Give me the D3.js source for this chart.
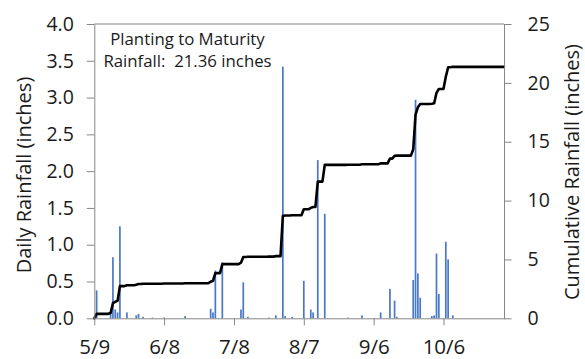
<!DOCTYPE html>
<html>
<head>
<meta charset="utf-8">
<script src="https://cdn.jsdelivr.net/npm/d3@7"></script>
<style>
  html, body { margin: 0; padding: 0; background: #fff; }
  svg { display: block; font-family: "Open Sans", sans-serif; }
</style>
</head>
<body>
<svg id="chart" width="585" height="359"></svg>
<script>
// Season window (planting to maturity)
const seasonStart = "5/9";
const seasonEnd = "11/1";
const seasonYear = 2014;

// Days with measurable rain and daily totals (inches)
const rainDates = [
  "5/10", "5/16", "5/17", "5/18", "5/19", "5/20", "5/23", "5/27", "5/28", "5/30",
  "6/3", "6/8", "6/17", "6/28", "6/29", "6/30", "7/3", "7/11", "7/12", "7/14",
  "7/23", "7/26", "7/29", "7/30", "8/2", "8/7", "8/10", "8/11", "8/13", "8/16",
  "8/26", "9/1", "9/9", "9/13", "9/15", "9/16", "9/23", "9/24", "9/25", "9/26",
  "10/1", "10/2", "10/3", "10/4", "10/7", "10/8", "10/10"
];
const rainDaily = [
  0.38, 0.07, 0.83, 0.12, 0.08, 1.25, 0.08, 0.04, 0.06, 0.02,
  0.01, 0.01, 0.03, 0.13, 0.08, 0.65, 0.76, 0.12, 0.49, 0.02,
  0.01, 0.04, 3.42, 0.03, 0.02, 0.51, 0.12, 0.08, 2.15, 1.42,
  0.01, 0.04, 0.08, 0.40, 0.24, 0.02, 0.52, 2.97, 0.61, 0.28,
  0.03, 0.04, 0.88, 0.33, 1.04, 0.80, 0.04
];

// Axis tick labels
const dateTicks = ["5/9", "6/8", "7/8", "8/7", "9/6", "10/6"];
const dailyTicks = [0, 0.5, 1.0, 1.5, 2.0, 2.5, 3.0, 3.5, 4.0];
const cumulativeTicks = [0, 5, 10, 15, 20, 25];

const titleLines = ["Planting to Maturity", "Rainfall:  21.36 inches"];

const parseDate = s => d3.utcParse("%m/%d/%Y")(s + "/" + seasonYear);

const svg = d3.select("#chart");
const plot = { left: 94.3, right: 504, top: 24, bottom: 318.3 };
const axisColor = "#868686";
const textColor = "#1a1a1a";

const x = d3.scaleUtc()
  .domain([parseDate(seasonStart), parseDate(seasonEnd)])
  .range([plot.left, plot.right]);
const yDaily = d3.scaleLinear().domain([0, 4]).range([plot.bottom, plot.top]);
const yCum = d3.scaleLinear().domain([0, 25]).range([plot.bottom, plot.top]);

// Daily series over the whole season, zero on dry days, and its running total
const rainByDay = new Map(rainDates.map((d, i) => [+parseDate(d), rainDaily[i]]));
const seasonDays = d3.utcDay.range(parseDate(seasonStart), d3.utcDay.offset(parseDate(seasonEnd), 1));
const cumulative = d3.cumsum(seasonDays, d => rainByDay.get(+d) || 0);
const cumSeries = seasonDays.map((d, i) => ({ date: d, total: cumulative[i] }));

// Plot frame top edge
svg.append("line")
  .attr("x1", plot.left).attr("x2", plot.right)
  .attr("y1", plot.top).attr("y2", plot.top)
  .attr("stroke", axisColor).attr("stroke-width", 1);

// Daily rainfall bars
const barW = 1.7;
svg.append("g").selectAll("rect")
  .data(rainDates.map((d, i) => ({ date: parseDate(d), value: rainDaily[i] })))
  .join("rect")
  .attr("x", d => x(d.date) - barW / 2)
  .attr("width", barW)
  .attr("y", d => yDaily(d.value))
  .attr("height", d => yDaily(0) - yDaily(d.value))
  .attr("fill", "#4a78c8");

// Cumulative rainfall line
svg.append("path")
  .datum(cumSeries)
  .attr("fill", "none")
  .attr("stroke", "#000")
  .attr("stroke-width", 2.6)
  .attr("stroke-linejoin", "round")
  .attr("stroke-linecap", "round")
  .attr("d", d3.line().x(d => x(d.date)).y(d => yCum(d.total)));

function styleAxis(g) {
  g.selectAll(".domain").attr("stroke", axisColor);
  g.selectAll(".tick line").attr("stroke", axisColor);
  g.selectAll(".tick text").attr("fill", textColor).attr("font-family", "Open Sans, sans-serif");
}

// Left axis
svg.append("g")
  .attr("transform", `translate(${plot.left},0)`)
  .call(d3.axisLeft(yDaily).tickValues(dailyTicks).tickFormat(d3.format(".1f"))
    .tickSize(7.5).tickPadding(13).tickSizeOuter(0))
  .call(styleAxis)
  .call(g => g.selectAll(".tick text").attr("font-size", 19.5));

// Right axis
svg.append("g")
  .attr("transform", `translate(${plot.right},0)`)
  .call(d3.axisRight(yCum).tickValues(cumulativeTicks).tickFormat(d3.format("d"))
    .tickSize(7.5).tickPadding(16).tickSizeOuter(0))
  .call(styleAxis)
  .call(g => g.selectAll(".tick text").attr("font-size", 19.5));

// Bottom axis
svg.append("g")
  .attr("transform", `translate(0,${plot.bottom})`)
  .call(d3.axisBottom(x).tickValues(dateTicks.map(parseDate))
    .tickFormat((d, i) => dateTicks[i]).tickSize(7).tickPadding(14).tickSizeOuter(0))
  .call(styleAxis)
  .call(g => g.selectAll(".tick text").attr("font-size", 20.5));

// Axis titles
svg.append("text")
  .attr("transform", "translate(31,175) rotate(-90)")
  .attr("text-anchor", "middle")
  .attr("font-size", 20)
  .attr("fill", textColor)
  .text("Daily Rainfall (inches)");

svg.append("text")
  .attr("transform", "translate(579,172) rotate(-90)")
  .attr("text-anchor", "middle")
  .attr("font-size", 20)
  .attr("fill", textColor)
  .text("Cumulative Rainfall (inches)");

// Season total annotation
svg.append("g").selectAll("text")
  .data(titleLines)
  .join("text")
  .attr("x", 187.5)
  .attr("y", (d, i) => 45 + i * 22)
  .attr("text-anchor", "middle")
  .attr("font-size", 16.8)
  .attr("fill", textColor)
  .style("white-space", "pre")
  .text(d => d);
</script>
</body>
</html>
